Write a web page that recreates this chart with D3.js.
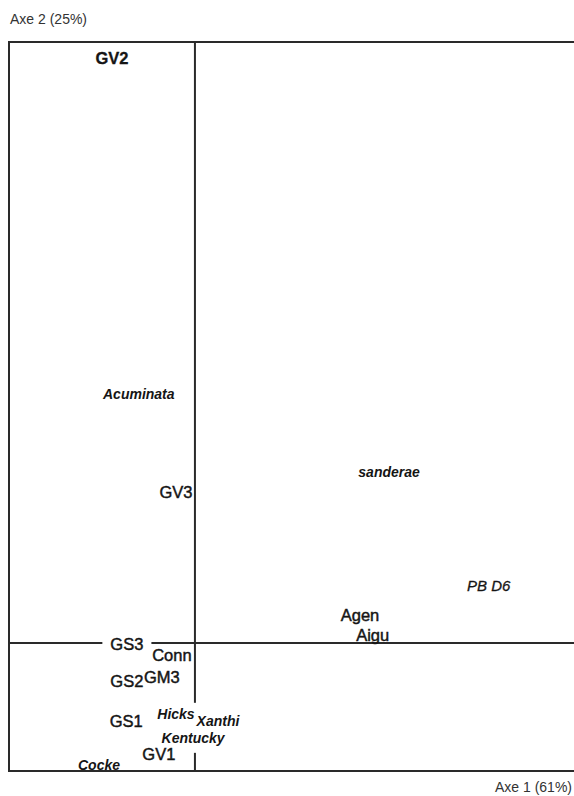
<html>
<head>
    <script src="https://d3js.org/d3.v7.min.js"></script>
    <style type="text/css">
        body { margin: 0; background: #fff; }
        text { font-family: "Liberation Sans", Arial, sans-serif; fill: #151515; }
        line.axis, rect.frame { stroke: #2a2a2a; stroke-width: 2; fill: none; }
        text.title { font-size: 14px; fill: #333; }
        text.lab { font-size: 16.5px; stroke: #151515; stroke-width: 0.45; }
        text.lab.strong { font-weight: bold; font-size: 16.5px; stroke-width: 0.3; }
        text.lab.ital { font-style: italic; font-weight: bold; font-size: 14px; stroke-width: 0; }
        text.lab.plainital { font-style: italic; font-weight: normal; font-size: 15px; stroke-width: 0.3; }
    </style>
</head>

<body>
    <svg></svg>

    <script>
        const W = 574, H = 796;

        // label positions on the two factor axes
        const names = ["GV2", "Acuminata", "GV3", "sanderae", "PB D6", "Agen", "Aigu", "GS3", "Conn",
                       "GS2", "GM3", "GS1", "Hicks", "Xanthi", "Kentucky", "GV1", "Cocke"];
        const axe1 = [-0.223, -0.151, -0.051, 0.522, 0.790, 0.444, 0.478, -0.183, -0.062,
                      -0.183, -0.089, -0.185, -0.051, 0.062, -0.005, -0.097, -0.258];
        const axe2 = [0.973, 0.414, 0.251, 0.285, 0.095, 0.047, 0.013, -0.002, -0.020,
                      -0.063, -0.057, -0.131, -0.118, -0.130, -0.158, -0.185, -0.203];

        const italicNames = ["Acuminata", "sanderae", "Hicks", "Xanthi", "Kentucky", "Cocke"];
        const plainItalicNames = ["PB D6"];
        const boldNames = ["GV2"];
        const gapLabels = ["GS3", "Hicks", "Xanthi", "Kentucky"];

        const xTitle = "Axe 1 (61%)", yTitle = "Axe 2 (25%)";
        const xDomain = [-0.5, 1.1], yDomain = [-0.213, 1.0];

        const Left = 9, Top = 42, Right = 604, Bottom = 771;

        var x = d3.scaleLinear().domain(xDomain).range([Left, Right]);
        var y = d3.scaleLinear().domain(yDomain).range([Bottom, Top]);

        var svg = d3.select("svg").attr("width", W).attr("height", H);

        svg.append("rect").classed("frame", true)
            .attr("x", Left).attr("y", Top)
            .attr("width", Right - Left).attr("height", Bottom - Top);

        svg.append("line").classed("axis", true)
            .attr("x1", x(0)).attr("x2", x(0))
            .attr("y1", Top).attr("y2", Bottom);

        svg.append("line").classed("axis", true)
            .attr("x1", Left).attr("x2", Right)
            .attr("y1", y(0)).attr("y2", y(0));

        svg.append("text").classed("title", true)
            .attr("x", 10).attr("y", 24)
            .text(yTitle);

        svg.append("text").classed("title", true)
            .attr("x", 572).attr("y", 792)
            .attr("text-anchor", "end")
            .text(xTitle);

        var Points = names.map((n, i) => ({ name: n, a1: axe1[i], a2: axe2[i] }));

        var knock = svg.append("g");

        var labels = svg.selectAll("text.lab")
            .data(Points)
            .enter()
            .append("text").classed("lab", true)
                .classed("ital", (d) => italicNames.includes(d.name))
                .classed("plainital", (d) => plainItalicNames.includes(d.name))
                .classed("strong", (d) => boldNames.includes(d.name))
                .attr("x", (d) => x(d.a1))
                .attr("y", (d) => y(d.a2))
                .attr("dy", "0.35em")
                .attr("text-anchor", "middle")
                .text((d) => d.name);

        // white boxes behind labels that break the axis lines
        labels.filter((d) => gapLabels.includes(d.name))
            .each(function()
                {
                    let b = this.getBBox();
                    knock.append("rect")
                        .attr("x", b.x - 8).attr("y", b.y - 3)
                        .attr("width", b.width + 16).attr("height", b.height + 10)
                        .attr("fill", "#fff");
                }
            );
    </script>
</body>

</html>
